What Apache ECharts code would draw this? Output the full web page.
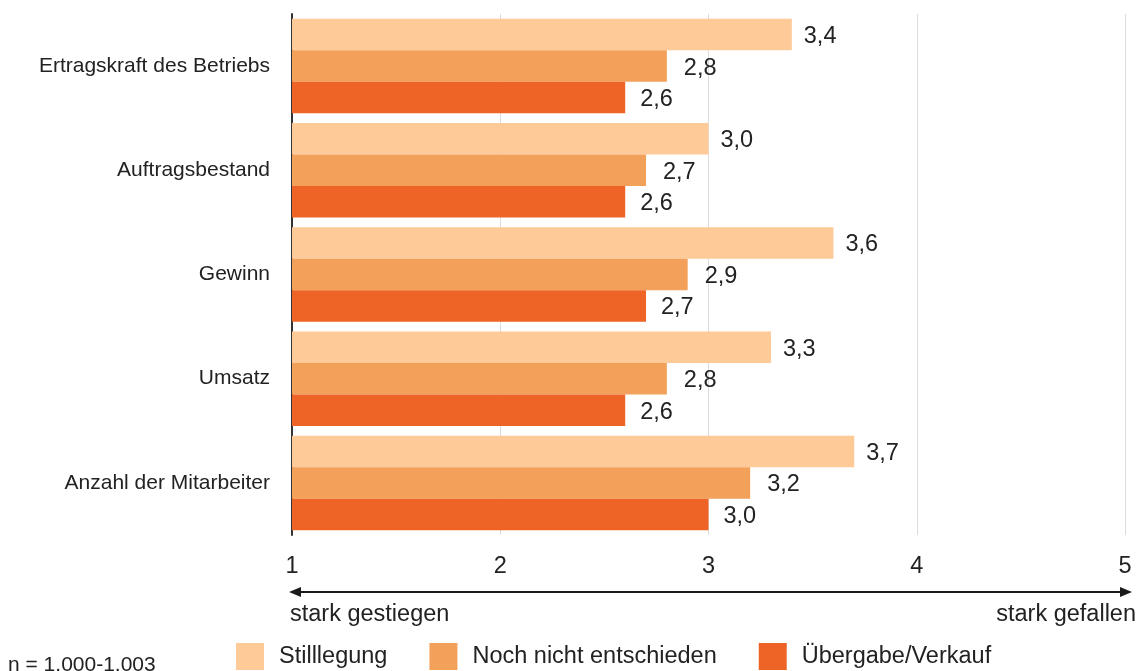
<!DOCTYPE html>
<html>
<head>
<meta charset="utf-8">
<script src="https://cdn.jsdelivr.net/npm/echarts@6/dist/echarts.min.js"></script>
<style>
  html, body { margin: 0; padding: 0; background: #fff; }
  #chart { width: 1140px; height: 671px; }
</style>
</head>
<body>
<div id="chart"></div>
<script>
// Categories, top to bottom
const categories = [
  'Ertragskraft des Betriebs',
  'Auftragsbestand',
  'Gewinn',
  'Umsatz',
  'Anzahl der Mitarbeiter'
];

// Mean rating per group (1 = stark gestiegen … 5 = stark gefallen)
const stilllegung = [3.4, 3.0, 3.6, 3.3, 3.7];
const nochNichtEntschieden = [2.8, 2.7, 2.9, 2.8, 3.2];
const uebergabeVerkauf = [2.6, 2.6, 2.7, 2.6, 3.0];

const seriesNames = ['Stilllegung', 'Noch nicht entschieden', 'Übergabe/Verkauf'];
const seriesColors = ['#FDCA98', '#F3A15A', '#EE6326'];
const axisTicks = [1, 2, 3, 4, 5];
const scaleLeftText = 'stark gestiegen';
const scaleRightText = 'stark gefallen';
const sampleNote = 'n = 1.000-1.003';

const FONT = "'Liberation Sans', Arial, Helvetica, sans-serif";
const TEXT = '#222';
const FS = 21;      // category and note text
const FS_LG = 23.5; // ticks, value labels, legend, scale captions

const chart = echarts.init(document.getElementById('chart'), null, { renderer: 'canvas' });

function makeSeries(name, data, color, labelDistance) {
  return {
    name: name,
    type: 'bar',
    data: data,
    barWidth: 31.5,
    barGap: '0%',
    itemStyle: { color: color },
    label: {
      show: true,
      position: 'right',
      distance: labelDistance,
      offset: [0, 2],
      color: TEXT,
      fontFamily: FONT,
      fontSize: FS_LG,
      formatter: p => p.value.toFixed(1).replace('.', ',')
    },
    emphasis: { disabled: true },
    animation: false
  };
}

chart.setOption({
  animation: false,
  textStyle: { fontFamily: FONT },
  grid: { left: 292, right: 15, top: 14, height: 521, containLabel: false },
  xAxis: {
    type: 'value',
    min: axisTicks[0],
    max: axisTicks[axisTicks.length - 1],
    interval: 1,
    axisLine: { show: false },
    axisTick: { show: false },
    axisLabel: { color: TEXT, fontSize: FS_LG, fontFamily: FONT, margin: 20 },
    splitLine: { show: true, lineStyle: { color: '#dcdcdc', width: 1 } }
  },
  yAxis: {
    type: 'category',
    data: categories,
    inverse: true,
    axisLine: { show: true, lineStyle: { color: '#333', width: 2 } },
    axisTick: { show: false },
    axisLabel: { color: TEXT, fontSize: FS, fontFamily: FONT, margin: 22, padding: [5, 0, 0, 0] }
  },
  legend: {
    left: 236,
    top: 643,
    padding: 0,
    itemWidth: 28,
    itemHeight: 27,
    itemGap: 42,
    icon: 'rect',
    selectedMode: false,
    textStyle: { color: TEXT, fontSize: FS_LG, fontFamily: FONT, padding: [2, 0, 0, 10] },
    data: seriesNames
  },
  series: [
    makeSeries(seriesNames[0], stilllegung, seriesColors[0], 12),
    makeSeries(seriesNames[1], nochNichtEntschieden, seriesColors[1], 17),
    makeSeries(seriesNames[2], uebergabeVerkauf, seriesColors[2], 15)
  ]
});

// Double-headed scale arrow under the value axis, placed from the axis scale
const xStart = chart.convertToPixel({ xAxisIndex: 0 }, axisTicks[0]);
const xEnd = chart.convertToPixel({ xAxisIndex: 0 }, axisTicks[axisTicks.length - 1]);
const arrowY = 592;
const tipL = xStart - 3;
const tipR = xEnd + 7;
const headLen = 12;
const headHalf = 5;

chart.setOption({
  graphic: [
    {
      type: 'line',
      shape: { x1: tipL + 4, y1: arrowY, x2: tipR - 4, y2: arrowY },
      style: { stroke: '#1a1a1a', lineWidth: 2 },
      silent: true
    },
    {
      type: 'polygon',
      shape: { points: [[tipL, arrowY], [tipL + headLen, arrowY - headHalf], [tipL + headLen, arrowY + headHalf]] },
      style: { fill: '#1a1a1a' },
      silent: true
    },
    {
      type: 'polygon',
      shape: { points: [[tipR, arrowY], [tipR - headLen, arrowY - headHalf], [tipR - headLen, arrowY + headHalf]] },
      style: { fill: '#1a1a1a' },
      silent: true
    },
    {
      type: 'text',
      x: xStart - 2,
      y: 615,
      style: { text: scaleLeftText, fill: TEXT, font: FS_LG + 'px ' + FONT, textAlign: 'left', textVerticalAlign: 'middle' },
      silent: true
    },
    {
      type: 'text',
      x: xEnd + 11,
      y: 615,
      style: { text: scaleRightText, fill: TEXT, font: FS_LG + 'px ' + FONT, textAlign: 'right', textVerticalAlign: 'middle' },
      silent: true
    },
    {
      type: 'text',
      x: 8,
      y: 665,
      style: { text: sampleNote, fill: TEXT, font: FS + 'px ' + FONT, textAlign: 'left', textVerticalAlign: 'middle' },
      silent: true
    }
  ]
});
</script>
</body>
</html>
